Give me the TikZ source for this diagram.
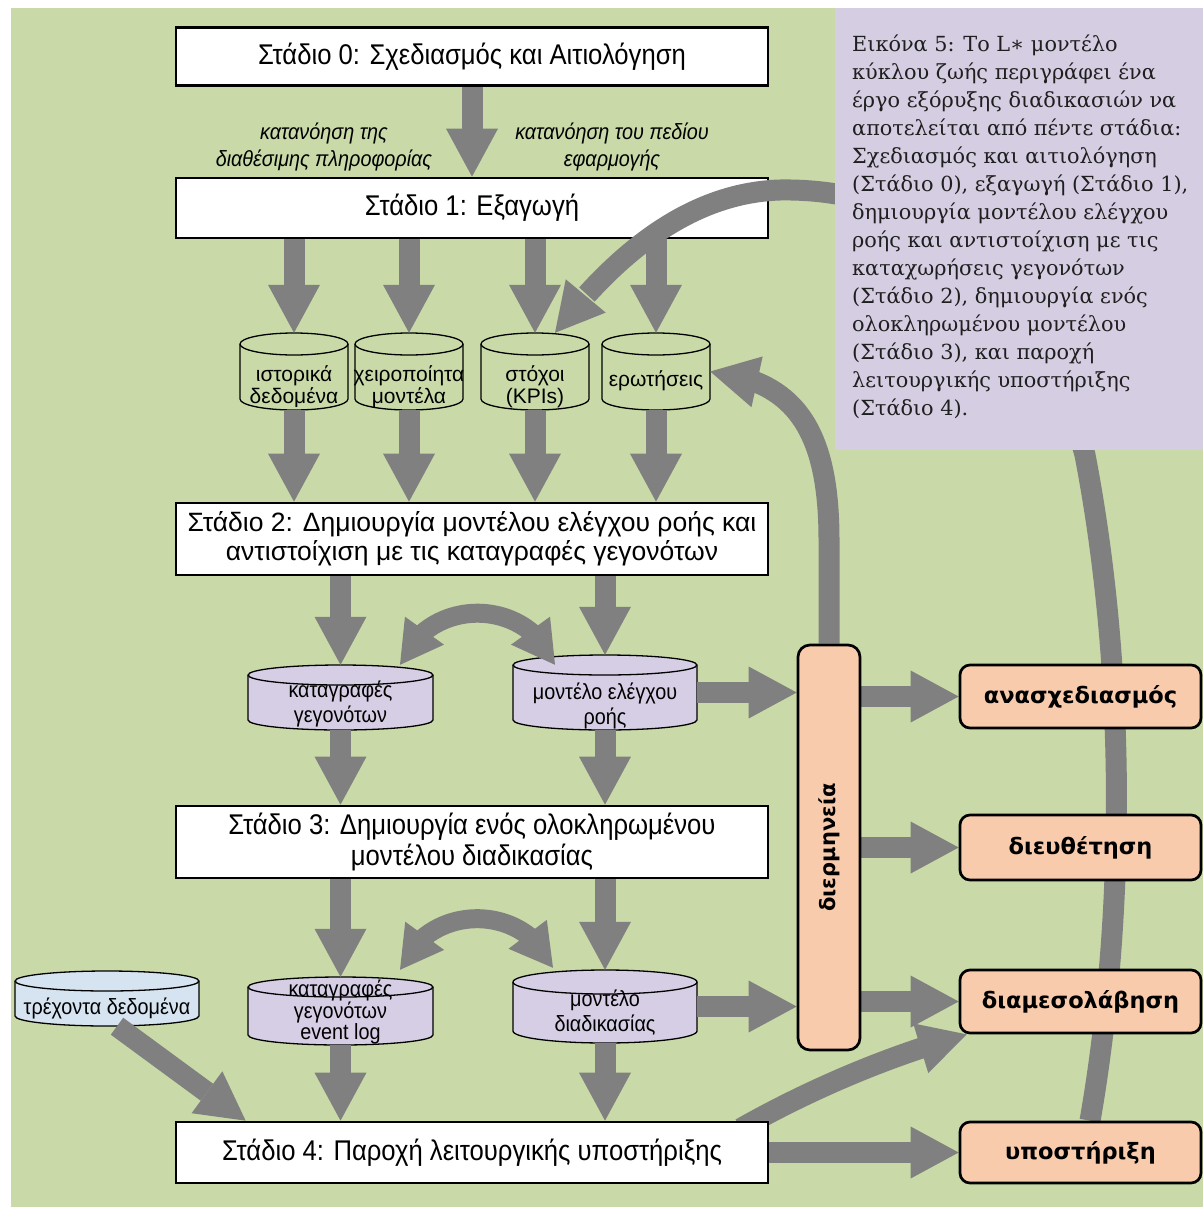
\documentclass[tikz,border=0pt]{standalone}
\usepackage{fontspec}
\usepackage{graphicx}
\setmainfont{Liberation Sans}
\newfontfamily\nfont[FakeStretch=0.9]{Liberation Sans}
\newfontfamily\capfont{DejaVu Serif}
\newfontfamily\bfont{DejaVu Sans}
\usetikzlibrary{arrows.meta,bending}
\pgfdeclarelayer{bg}
\pgfdeclarelayer{fg}
\pgfsetlayers{bg,main,fg}
\definecolor{bggreen}{RGB}{201,218,168}
\definecolor{cappurple}{RGB}{213,205,226}
\definecolor{cylpurple}{RGB}{214,206,228}
\definecolor{boxorange}{RGB}{248,203,173}
\definecolor{cylblue}{RGB}{214,227,240}
\definecolor{agray}{RGB}{128,128,128}
\newcommand{\mystfont}{\nfont\fontsize{28.5}{31}\selectfont}
\newcommand{\cylshape}[7]{%
  \path[cylline, fill=#7] (#2-#4,#3+#5-#6) -- (#2-#4,#3-#5+#6)
     arc[start angle=180,end angle=360,x radius=#4pt,y radius=#6pt]
     -- (#2+#4,#3+#5-#6)
     arc[start angle=0,end angle=180,x radius=#4pt,y radius=#6pt] -- cycle;
  \draw[cylline] (#2-#4,#3+#5-#6) arc[start angle=180,end angle=360,x radius=#4pt,y radius=#6pt];
  \node[inner sep=0pt, minimum width=#4*2pt, minimum height=#5*2pt] (#1) at (#2,#3) {};
}
\tikzset{
  stagebox/.style={draw=black, line width=2.7pt, fill=white, minimum width=592pt, inner sep=0pt, align=center},
  resbox/.style={draw=black, line width=2.7pt, fill=boxorange, rounded corners=10pt, minimum width=241pt, inner sep=0pt, font=\bfont\bfseries\fontsize{22.5}{26}\selectfont},
  cylline/.style={draw=black, line width=1.3pt},
  cyltext/.style={inner sep=0pt, align=center, font=\fontsize{21}{22}\selectfont},
  pcyltext/.style={inner sep=0pt, align=center, font=\nfont\fontsize{22}{25}\selectfont},
  garrow/.style={draw=agray, line width=21pt, -{Triangle[width=52pt,length=48pt,line width=0pt]}},
  darrow/.style={draw=agray, line width=19pt, {Triangle[width=48pt,length=42pt,line width=0pt]}-{Triangle[width=48pt,length=42pt,line width=0pt]}},
  lbl/.style={inner sep=0pt, align=center, font=\nfont\itshape\fontsize{22}{27}\selectfont}
}
\begin{document}
\begin{tikzpicture}[x=1pt,y=1pt]
\path[use as bounding box] (0,0) rectangle (1203,-1207);
\begin{pgfonlayer}{bg}
\fill[white] (0,0) rectangle (1203,-1207);
\fill[bggreen] (11,-8) rectangle (1203,-1207);
\end{pgfonlayer}

% stage boxes
\node[stagebox, minimum height=58pt, font=\mystfont] (s0) at (472,-56.5) {Στάδιο 0: Σχεδιασμός και Αιτιολόγηση};
\node[stagebox, minimum height=60pt, font=\mystfont] (s1) at (472,-208) {Στάδιο 1: Εξαγωγή};
\node[stagebox, minimum height=72pt, font=\fontsize{26.5}{29}\selectfont] (s2) at (472,-539) {Στάδιο 2: Δημιουργία μοντέλου ελέγχου ροής και\\αντιστοίχιση με τις καταγραφές γεγονότων};
\node[stagebox, minimum height=72pt, font=\nfont\fontsize{28.5}{31}\selectfont] (s3) at (472,-842) {Στάδιο 3: Δημιουργία ενός ολοκληρωμένου\\μοντέλου διαδικασίας};
\node[stagebox, minimum height=61pt, font=\mystfont] (s4) at (472,-1152.5) {Στάδιο 4: Παροχή λειτουργικής υποστήριξης};

% labels
\node[lbl] (l1) at (324,-146.5) {κατανόηση της\\διαθέσιμης πληροφορίας};
\node[lbl] (l2) at (612,-146.5) {κατανόηση του πεδίου\\εφαρμογής};

% top cylinders
\cylshape{q1}{294}{-371.5}{54}{38.5}{11}{none}
\cylshape{q2}{409}{-371.5}{54}{38.5}{11}{none}
\cylshape{q3}{535}{-371.5}{54}{38.5}{11}{none}
\cylshape{q4}{656}{-371.5}{54}{38.5}{11}{none}
\node[cyltext] (q1t) at (294,-387) {ιστορικά\\δεδομένα};
\node[cyltext] (q2t) at (409,-387) {χειροποίητα\\μοντέλα};
\node[cyltext] (q3t) at (535,-387) {στόχοι\\(KPIs)};
\node[cyltext] (q4t) at (656,-381) {ερωτήσεις};

% purple cylinders
\cylshape{kg1}{340.5}{-697.5}{92.5}{32.5}{10}{cylpurple}
\cylshape{mr1}{605}{-692.5}{92}{37.5}{10}{cylpurple}
\cylshape{kg2}{340.5}{-1011}{92.5}{34}{10}{cylpurple}
\cylshape{md2}{605}{-1006.5}{92}{36.5}{12}{cylpurple}
\cylshape{blue}{107}{-998.5}{92}{27.5}{10}{cylblue}
\node[pcyltext] (kg1t) at (340.5,-704) {καταγραφές\\γεγονότων};
\node[pcyltext] (mr1t) at (605,-706) {μοντέλο ελέγχου\\ροής};
\node[pcyltext, font=\nfont\fontsize{22}{21.5}\selectfont] (kg2t) at (340.5,-1012) {καταγραφές\\γεγονότων\\event log};
\node[pcyltext] (md2t) at (605,-1012.5) {μοντέλο\\διαδικασίας};
\node[pcyltext] (bluet) at (107,-1008) {τρέχοντα δεδομένα};

% interpretation and result boxes (front layer)
\begin{pgfonlayer}{fg}
\node[draw=black, line width=2.7pt, fill=boxorange, rounded corners=12pt, minimum width=62pt, minimum height=405pt, inner sep=0pt] (interp) at (829,-847.5) {\rotatebox{90}{\bfont\bfseries\fontsize{21}{24}\selectfont διερμηνεία}};
\node[resbox, minimum height=63pt] (r1) at (1080.5,-696.5) {ανασχεδιασμός};
\node[resbox, minimum height=65pt] (r2) at (1080.5,-847.5) {διευθέτηση};
\node[resbox, minimum height=63pt] (r3) at (1080.5,-1001.5) {διαμεσολάβηση};
\node[resbox, minimum height=61pt] (r4) at (1080.5,-1152.5) {υποστήριξη};
\fill[cappurple] (835,-8) rectangle (1203,-450);
\node[anchor=north west, align=left, inner sep=0pt, text=black!88, font=\capfont\fontsize{20.8}{28}\selectfont] (cap) at (852,-35) {Εικόνα 5: Το L∗ μοντέλο\\κύκλου ζωής περιγράφει ένα\\έργο εξόρυξης διαδικασιών να\\αποτελείται από πέντε στάδια:\\Σχεδιασμός και αιτιολόγηση\\(Στάδιο 0), εξαγωγή (Στάδιο 1),\\δημιουργία μοντέλου ελέγχου\\ροής και αντιστοίχιση με τις\\καταχωρήσεις γεγονότων\\(Στάδιο 2), δημιουργία ενός\\ολοκληρωμένου μοντέλου\\(Στάδιο 3), και παροχή\\λειτουργικής υποστήριξης\\(Στάδιο 4).};
\end{pgfonlayer}

% arrow behind stage 4
\begin{pgfonlayer}{bg}
\draw[garrow] ([shift={(566,-8)}]s4.north west) .. controls (800,-1095) and (880,-1058) .. ([xshift=8pt]r3.south west);
\end{pgfonlayer}

% straight arrows
\draw[garrow] (s0.south) -- (s1.north);
\foreach \c in {q1,q2,q3,q4}{
  \draw[garrow] (s1.south -| \c.north) -- (\c.north);
  \draw[garrow] (\c.south) -- (\c.south |- s2.north);
}
\foreach \c in {kg1,mr1}{
  \draw[garrow] (s2.south -| \c.north) -- (\c.north);
  \draw[garrow] (\c.south) -- (\c.south |- s3.north);
}
\foreach \c in {kg2,md2}{
  \draw[garrow] (s3.south -| \c.north) -- (\c.north);
  \draw[garrow] (\c.south) -- (\c.south |- s4.north);
}
\draw[garrow] ([xshift=10pt]blue.south) -- ([xshift=71pt]s4.north west);
\draw[darrow] ([shift={(59.5,0)}]kg1.north) .. controls (428,-596) and (527,-596) .. ([shift={(-50,-10)}]mr1.north);
\draw[darrow] ([shift={(59.5,7)}]kg2.north) .. controls (428,-902) and (525,-902) .. ([shift={(-52,2)}]md2.north);
\draw[garrow] (mr1.east) -- (mr1.east -| interp.west);
\draw[garrow] (md2.east) -- (md2.east -| interp.west);
\foreach \r in {r1,r2,r3}{
  \draw[garrow] (interp.east |- \r.west) -- (\r.west);
}
\draw[garrow] (s4.east |- r4.west) -- (r4.west);
\draw[garrow] (interp.north) -- (829,-540) .. controls (829,-430) and (795,-380) .. (q4.east);
% big feedback arc
\draw[garrow] ([xshift=9.5pt]r4.north) .. controls (1120,-950) and (1132,-700) .. (1085,-455) .. controls (1030,-250) and (900,-188) .. (780,-190) .. controls (680,-193) and (605,-268) .. ([xshift=20pt]q3.north);
\end{tikzpicture}
\end{document}
